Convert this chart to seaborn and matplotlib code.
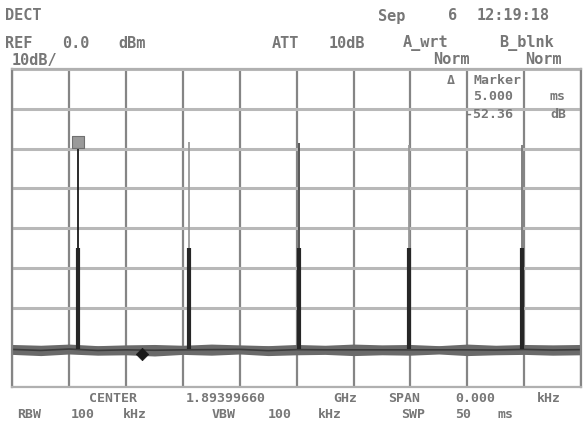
import numpy as np
import pandas as pd
import seaborn as sns
import matplotlib.pyplot as plt

# DECT burst, zero span, 50 ms sweep, 10 dB/div, ref 0 dBm
burst_t = [5.78, 15.53, 25.2, 34.88, 44.8]          # ms
burst_peak = [-19.6, -18.4, -18.6, -19.0, -19.1]     # dBm (thin top)
burst_body = [-45.0, -45.0, -45.0, -45.0, -45.0]     # dBm (dense part)

floor_t = [0, 2.5, 5, 7.5, 10, 12.5, 15, 17.5, 20, 22.5, 25, 27.5, 30,
           32.5, 35, 37.5, 40, 42.5, 45, 47.5, 50]
floor_hi = [-69.3, -69.5, -69.2, -69.6, -69.4, -69.3, -69.5, -69.2, -69.4,
            -69.6, -69.3, -69.5, -69.2, -69.4, -69.3, -69.6, -69.2, -69.5,
            -69.3, -69.4, -69.3]
floor_lo = [-71.8, -72.1, -71.7, -72.0, -71.9, -72.2, -71.8, -72.0, -71.7,
            -72.1, -71.9, -71.8, -72.1, -71.9, -72.0, -71.7, -72.1, -71.9,
            -71.8, -72.0, -71.9]

marker_t = [5.78]
marker_db = [-18.4]
delta_t = [11.4]
delta_db = [-71.8]

sns.set_theme(style="white")
plt.rcParams['font.family'] = ['DejaVu Sans Mono', 'DejaVu Sans']

fig = plt.figure(figsize=(5.83, 4.29), dpi=100)
ax = fig.add_axes([12.3 / 583, 1 - 387 / 429, 568.7 / 583, 318 / 429])

ax.set_xlim(0, 50)
ax.set_ylim(-80, 0)
ax.set_xticks(np.arange(0, 51, 5))
ax.set_yticks(np.arange(-80, 1, 10))
ax.tick_params(length=0, labelbottom=False, labelleft=False)
ax.xaxis.grid(True, color='#858585', lw=1.6)
ax.yaxis.grid(True, color='#b8b8b8', lw=2.2)
ax.set_axisbelow(True)
for s in ax.spines.values():
    s.set_color('#b0b0b0')
    s.set_linewidth(1.6)
ax.spines['left'].set_color('#858585')
ax.spines['right'].set_color('#858585')

# noise floor band
fl = pd.DataFrame({'t': floor_t, 'hi': floor_hi, 'lo': floor_lo})
ax.fill_between(fl['t'], fl['lo'], fl['hi'], color='#6a6a6a', lw=0)
sns.lineplot(x=floor_t, y=[(a + b) / 2 for a, b in zip(floor_hi, floor_lo)],
             ax=ax, color='#3c3c3c', lw=1.2)

# bursts
top_cols = ['#1a1a1a', '#9a9a9a', '#4a4a4a', '#9a9a9a', '#777777']
floor_mid = -70.5
ax.vlines(burst_t, floor_mid, burst_peak, colors=top_cols, lw=1.3)
ax.vlines(burst_t, floor_mid, burst_body, colors='#262626', lw=3.0)

# markers
sns.scatterplot(x=marker_t, y=marker_db, ax=ax, marker='s', s=70,
                color='#9a9a9a', edgecolor='#707070', lw=0.8, zorder=5)
sns.scatterplot(x=delta_t, y=delta_db, ax=ax, marker='D', s=40,
                color='#1a1a1a', edgecolor='#1a1a1a', zorder=5)
ax.set_xlabel('')
ax.set_ylabel('')

# screen annotations
tc = '#777777'
def put(px, py, s, fs=10.5):
    fig.text(px / 583, 1 - py / 429, s, ha='left', va='center',
             fontsize=fs, fontweight='bold', color=tc)

for px, py, s in [
    (5, 16, 'DECT'), (378, 16, 'Sep'), (448, 16, '6'), (477, 16, '12:19:18'),
    (5, 43, 'REF'), (62, 43, '0.0'), (118, 43, 'dBm'),
    (272, 43, 'ATT'), (329, 43, '10dB'), (403, 43, 'A_wrt'), (499, 43, 'B_blnk'),
    (12, 60, '10dB/'), (433, 59, 'Norm'), (525, 59, 'Norm'),
]:
    put(px, py, s, 11)

for px, py, s in [
    (447, 80, 'Δ'), (473, 80, 'Marker'),
    (473, 97, '5.000'), (550, 97, 'ms'),
    (465, 114, '-52.36'), (550, 114, 'dB'),
    (89, 398, 'CENTER'), (186, 398, '1.89399660'), (333, 398, 'GHz'),
    (388, 398, 'SPAN'), (455, 398, '0.000'), (537, 398, 'kHz'),
    (17, 415, 'RBW'), (71, 415, '100'), (123, 415, 'kHz'),
    (212, 415, 'VBW'), (268, 415, '100'), (318, 415, 'kHz'),
    (401, 415, 'SWP'), (455, 415, '50'), (498, 415, 'ms'),
]:
    put(px, py, s, 9.5)

fig.savefig('out.png', dpi=100, facecolor='white')
